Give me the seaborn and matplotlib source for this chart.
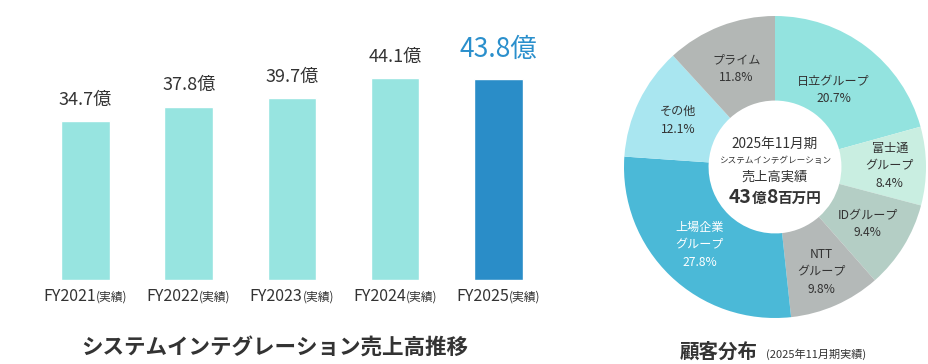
import matplotlib
matplotlib.use("Agg")
import matplotlib.pyplot as plt
from matplotlib.transforms import ScaledTranslation
import seaborn as sns
import numpy as np
import pandas as pd

# ---- data ----
years = ["FY2021", "FY2022", "FY2023", "FY2024", "FY2025"]
year_suffix = "(実績)"
sales = [34.7, 37.8, 39.7, 44.1, 43.8]
sales_unit = "億"

customers = ["日立グループ", "富士通\nグループ", "IDグループ", "NTT\nグループ",
             "上場企業\nグループ", "その他", "プライム"]
shares = [20.7, 8.4, 9.4, 9.8, 27.8, 12.1, 11.8]

bar_title = "システムインテグレーション売上高推移"
pie_title = "顧客分布"
pie_subtitle = "(2025年11月期実績)"
center_lines = ["2025年11月期", "システムインテグレーション", "売上高実績"]
center_total = [("43", 14), ("億", 10.5), ("8", 14), ("百万円", 10.5)]

# ---- style ----
sns.set_theme(style="white")
plt.rcParams['font.family'] = ['Noto Sans CJK JP', 'DejaVu Sans']
TXT = "#333333"
bar_colors = ["#97e4e0", "#97e4e0", "#97e4e0", "#97e4e0", "#2a8dc8"]
pie_colors = ["#93e3df", "#c9eee1", "#b4cec5", "#b4b9b8", "#4bb9d7", "#a9e6f0", "#b3b7b5"]
label_colors = [TXT, TXT, TXT, TXT, "white", TXT, TXT]
label_radius = [0.64, 0.76, 0.72, 0.76, 0.72, 0.71, 0.70]

W, H, DPI = 929, 364, 100
fig = plt.figure(figsize=(W / DPI, H / DPI), dpi=DPI)
fig.patch.set_facecolor("white")
renderer = fig.canvas.get_renderer()


def draw_runs(ax, x, y, runs, transform, color, weight="normal"):
    """Place text runs of different sizes side by side, centred on x."""
    texts, widths = [], []
    for s, size in runs:
        t = ax.text(x, y, s, fontsize=size, fontweight=weight, transform=transform,
                    ha="left", va="baseline", color=color, clip_on=False)
        widths.append(t.get_window_extent(renderer).width)
        texts.append(t)
    off = -sum(widths) / 2
    for t, w in zip(texts, widths):
        t.set_transform(transform + ScaledTranslation(off / DPI, 0, fig.dpi_scale_trans))
        off += w


# ---- bar chart ----
ax = fig.add_axes([33.9 / W, (H - 280) / H, 516 / W, 229 / H])
df = pd.DataFrame({"year": years, "sales": sales})
sns.barplot(data=df, x="year", y="sales", hue="year", palette=bar_colors,
            legend=False, width=0.47, saturation=1, ax=ax)
ax.set_xlim(-0.5, len(years) - 0.5)
ax.set_ylim(0, 50)
ax.axis("off")

for i, v in enumerate(sales):
    last = i == len(sales) - 1
    ax.annotate(f"{v:.1f}{sales_unit}", xy=(i, v),
                xytext=(0, 12 if last else 9), textcoords="offset points",
                ha="center", va="bottom",
                fontsize=19 if last else 13,
                color="#2a8fcc" if last else TXT)

# x labels (FY + smaller suffix)
for i, y in enumerate(years):
    tr = ax.transData + ScaledTranslation(0, -21 / DPI, fig.dpi_scale_trans)
    draw_runs(ax, i, 0, [(y, 11.5), (year_suffix, 8.5)], tr, TXT)

fig.text(275 / W, 1 - 347 / H, bar_title, ha="center", va="center",
         fontsize=15.5, fontweight="bold", color=TXT)

# ---- donut ----
ax2 = fig.add_axes([624 / W, (H - 167 - 151) / H, 302 / W, 302 / H])
wedges, _ = ax2.pie(shares, colors=pie_colors, startangle=90, counterclock=False,
                    radius=1, wedgeprops=dict(width=0.56, linewidth=0))
ax2.set_xlim(-1, 1)
ax2.set_ylim(-1, 1)
ax2.set_aspect("equal")
ax2.axis("off")

for w, name, val, col, r in zip(wedges, customers, shares, label_colors, label_radius):
    ang = np.deg2rad((w.theta1 + w.theta2) / 2)
    ax2.text(r * np.cos(ang), r * np.sin(ang), f"{name}\n{val:.1f}%",
             ha="center", va="center", fontsize=8.7, color=col, linespacing=1.45)

# centre text
ax2.text(0, 0.15, center_lines[0], ha="center", va="center", fontsize=9.8, color=TXT)
ax2.text(0, 0.045, center_lines[1], ha="center", va="center", fontsize=6.2, color=TXT)
ax2.text(0, -0.065, center_lines[2], ha="center", va="center", fontsize=9.5, color=TXT)
draw_runs(ax2, 0, -0.24, center_total, ax2.transData, TXT, weight="bold")

# donut title
t1 = fig.text(0, 1 - 358 / H, pie_title, ha="left", va="baseline",
              fontsize=14, fontweight="bold", color=TXT)
t2 = fig.text(0, 1 - 358 / H, pie_subtitle, ha="left", va="baseline",
              fontsize=8, color=TXT)
w1 = t1.get_window_extent(renderer).width
w2 = t2.get_window_extent(renderer).width
gap = 8
start = 773 - (w1 + gap + w2) / 2
t1.set_x(start / W)
t2.set_x((start + w1 + gap) / W)

fig.savefig("out.png", dpi=DPI, facecolor="white")
